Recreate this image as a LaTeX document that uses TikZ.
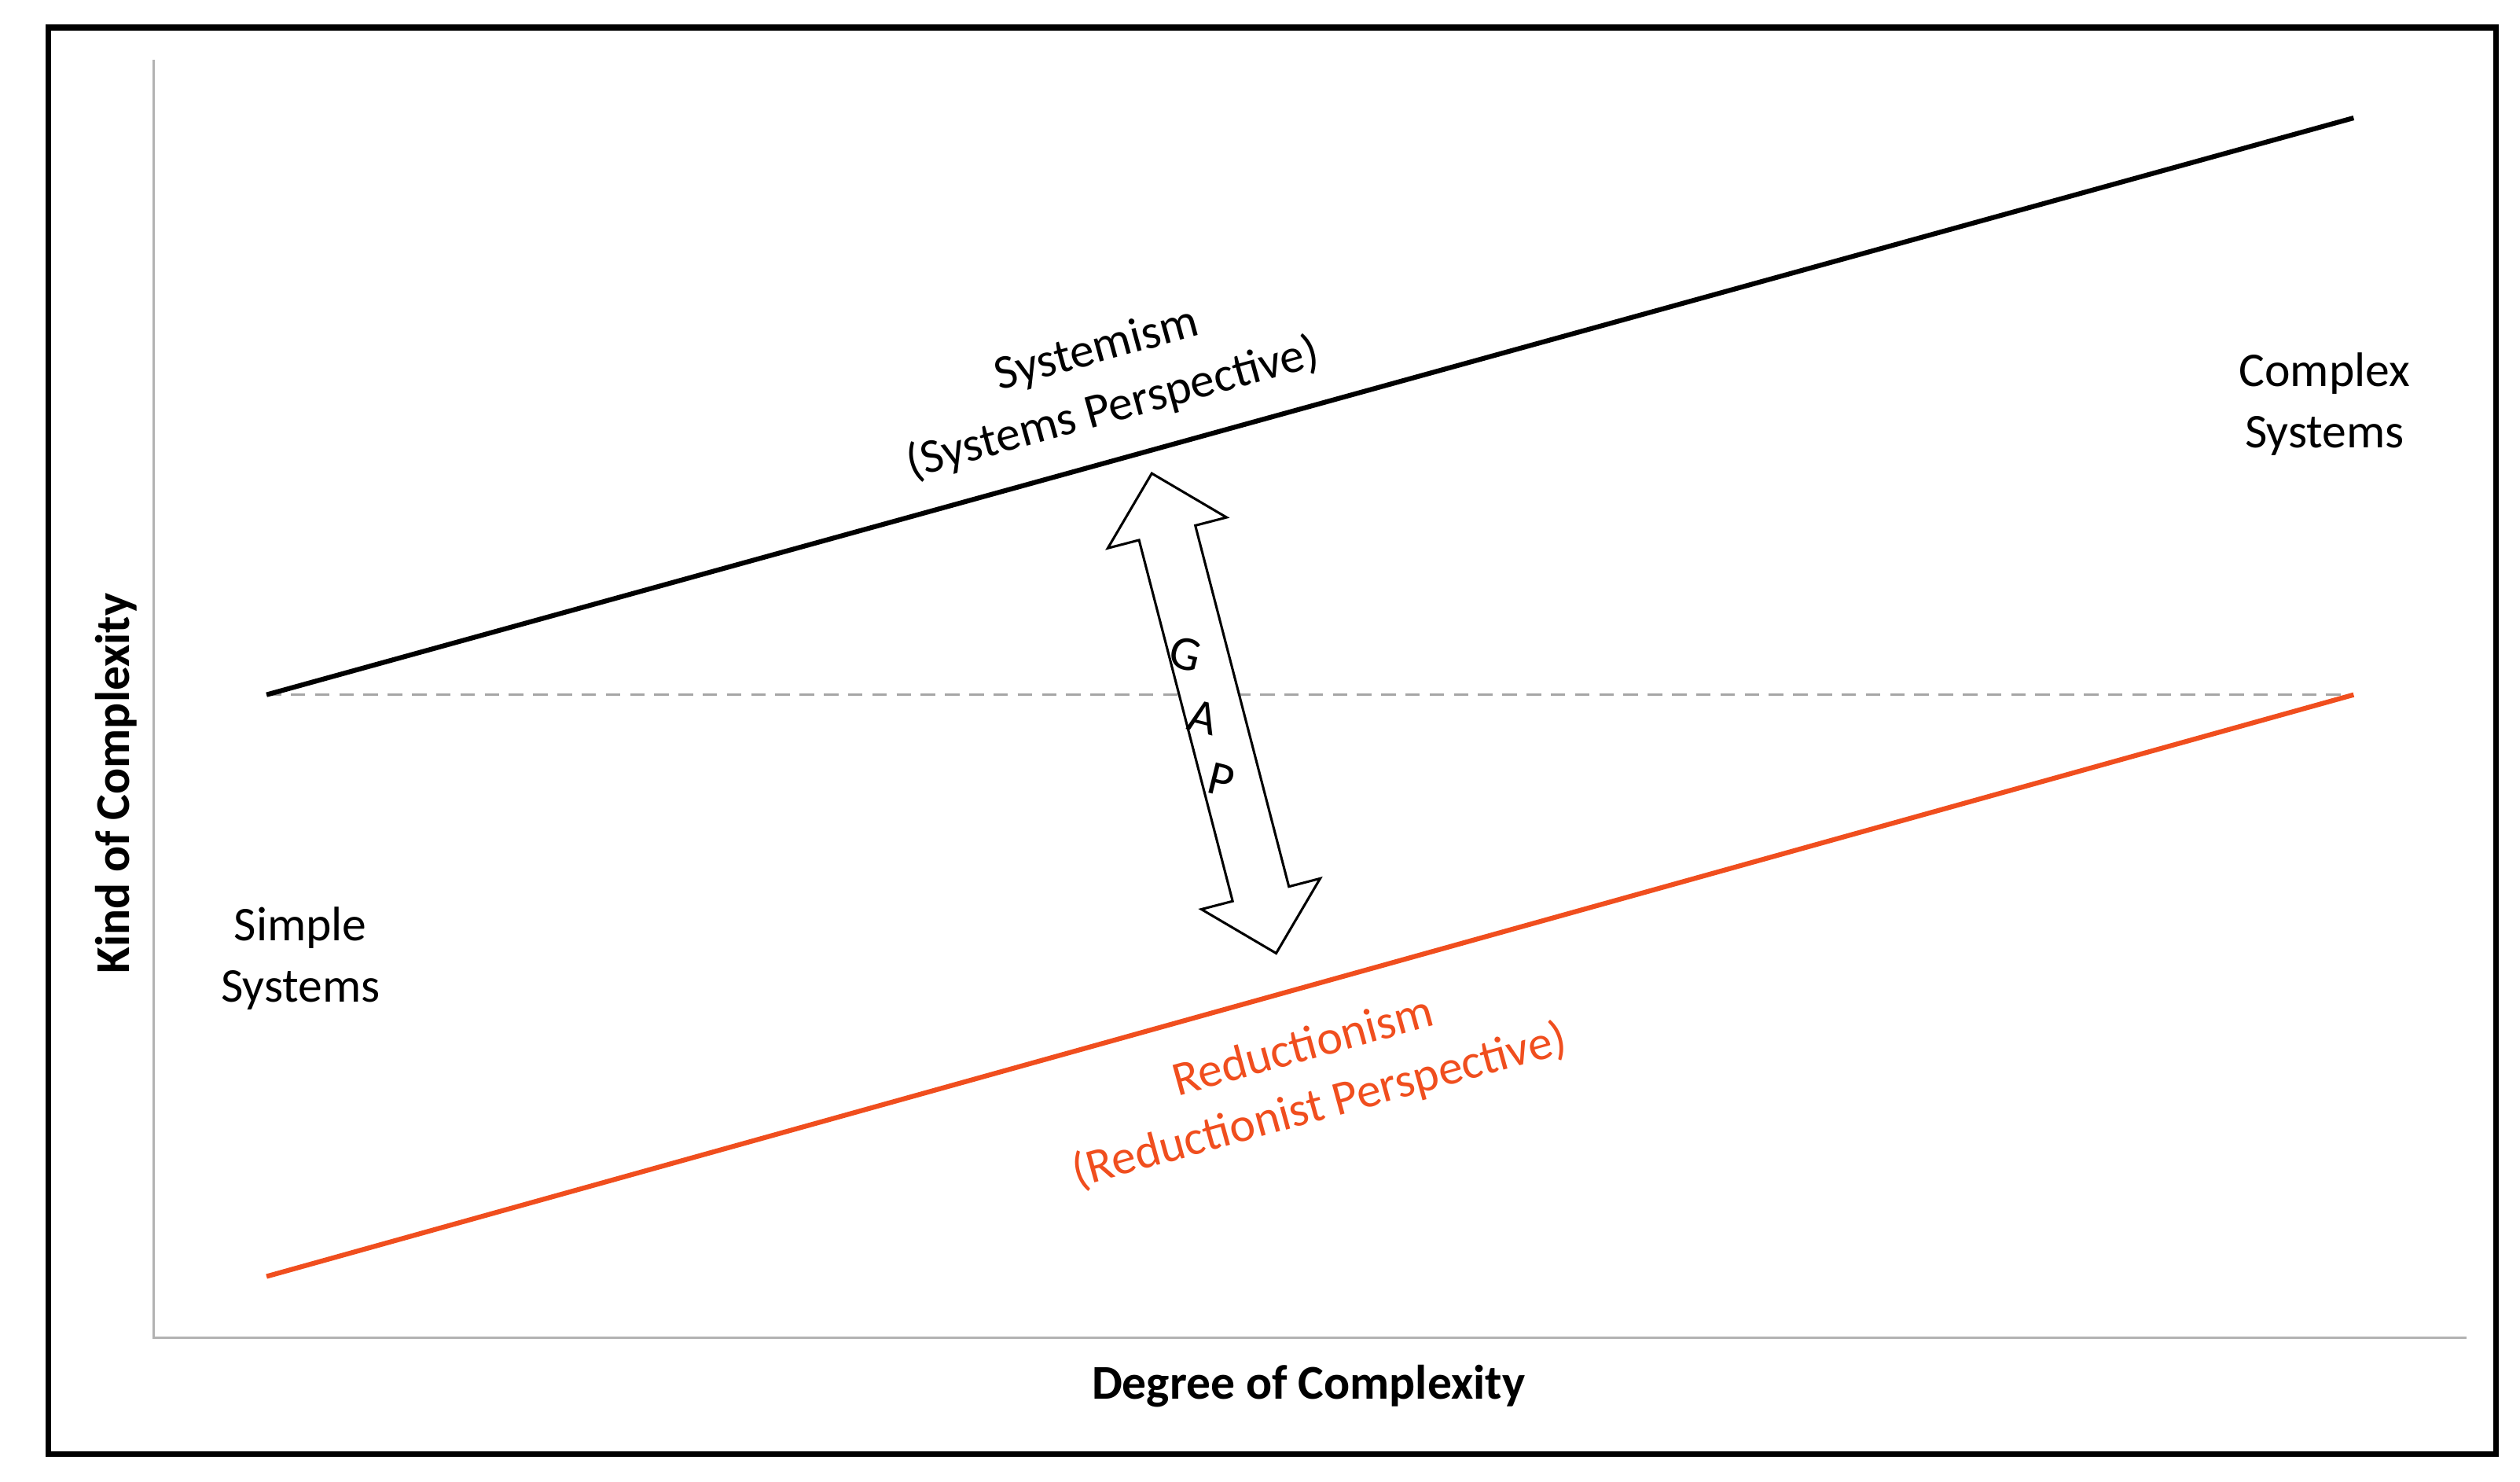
\documentclass[tikz,border=0pt]{standalone}
\usepackage{fontspec}
\setmainfont{Carlito}
\definecolor{redl}{HTML}{F04E1E}
\begin{document}
\begin{tikzpicture}[x=1pt,y=1pt,
  lbl/.style={font=\fontsize{30}{38}\selectfont,align=center,inner sep=0},
  axis/.style={draw=gray!60,line width=1.5pt}]
\useasboundingbox (0,0) rectangle (1560,917);
\draw[line width=3.5pt] (30,900) rectangle (1545,17);
\coordinate (o) at (95,89);
\coordinate (yt) at (95,880);
\coordinate (xr) at (1527,89);
\draw[axis] (yt) -- (o) -- (xr);
\coordinate (s0) at (165,487);
\coordinate (s1) at (1457,844);
\coordinate (r0) at (165,127);
\coordinate (r1) at (1457,487);
\draw[gray!70,dash pattern=on 9pt off 6pt,line width=1.5pt] (s0) -- (r1);
\draw[line width=3pt] (s0) -- (s1);
\draw[redl,line width=3pt] (r0) -- (r1);
\draw[fill=white,line width=1.5pt,line join=miter]
  (713,624) -- (759.29,596.77) -- (739.94,591.75) -- (797.88,368.27) -- (817.23,373.29)
  -- (790,327) -- (743.71,354.23) -- (763.06,359.25) -- (705.12,582.73) -- (685.77,577.71) -- cycle;
\node[lbl,rotate=-14] (g) at (734,512) {G};
\node[lbl,rotate=-14] (a) at (745,473) {A};
\node[lbl,rotate=-14] (p) at (756,434) {P};
\node[lbl,rotate=15.4] (sys) at (684,682) {Systemism\\(Systems Perspective)};
\node[lbl,rotate=15.4,text=redl] (red) at (812,250) {Reductionism\\(Reductionist Perspective)};
\node[lbl] (cs) at (1439,667) {Complex\\Systems};
\node[lbl] (ss) at (186,324) {Simple\\Systems};
\node[lbl,font=\fontsize{30}{38}\selectfont\bfseries] (xl) at (810,59) {Degree of Complexity};
\node[lbl,font=\fontsize{30}{38}\selectfont\bfseries,rotate=90] (yl) at (72,432) {Kind of Complexity};
\end{tikzpicture}
\end{document}
